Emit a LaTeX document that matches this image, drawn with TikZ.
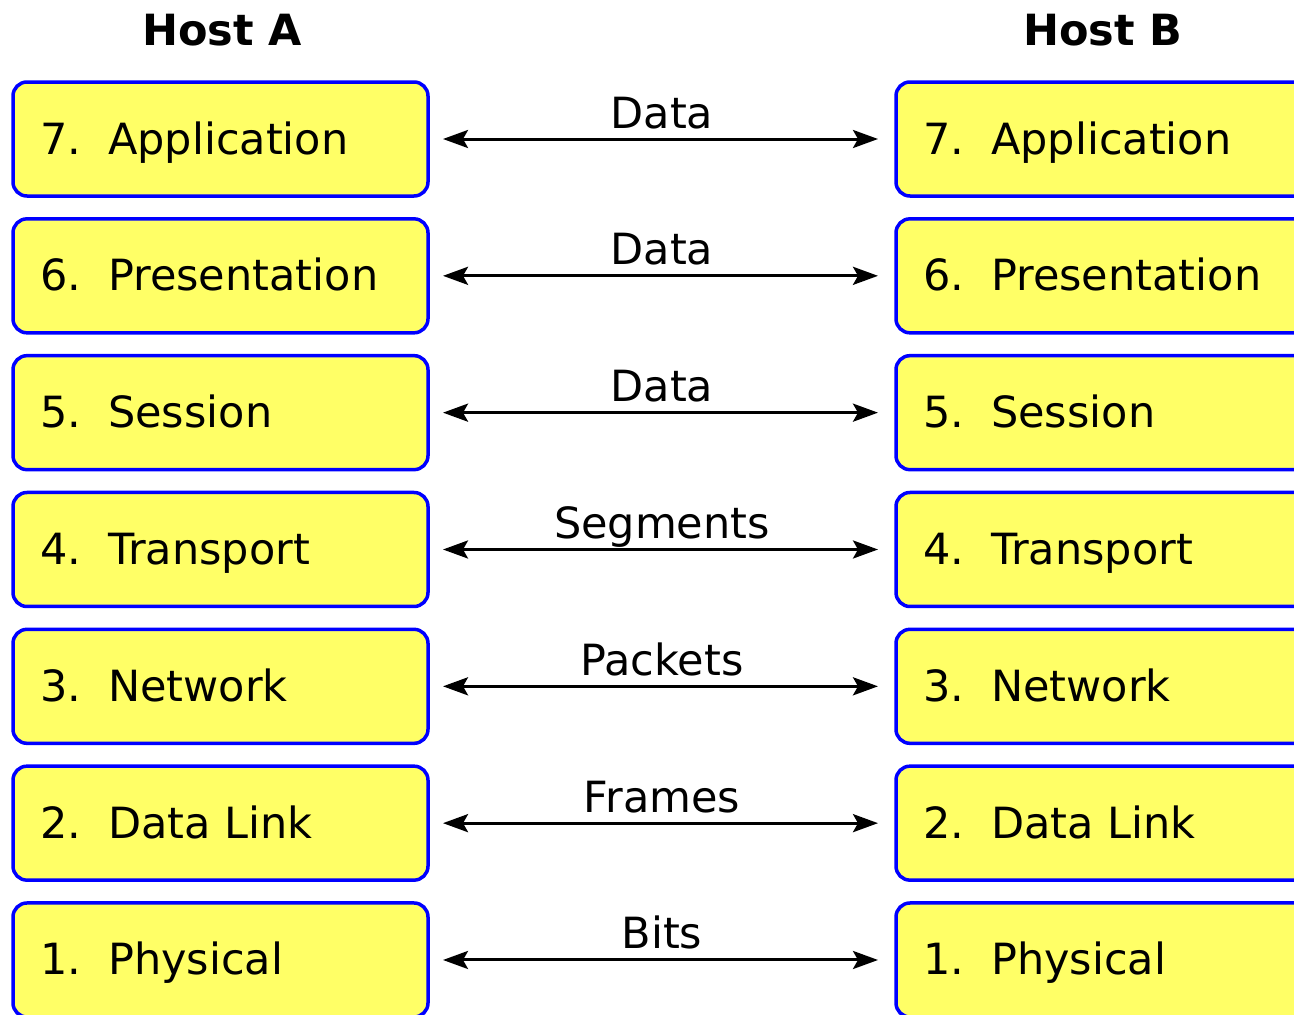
\documentclass[tikz,border=0pt]{standalone}
\usepackage{fontspec}
\setmainfont{DejaVu Sans}
\usetikzlibrary{arrows.meta}
\definecolor{boxfill}{HTML}{FFFF66}
\tikzset{
  layerbox/.style={draw=blue, fill=boxfill, line width=3.5pt, rounded corners=14pt,
    minimum width=415pt, minimum height=114pt, inner sep=0pt, outer sep=0pt, anchor=north west},
  lbl/.style={inner sep=0pt, anchor=base west, font=\fontsize{43}{50}\selectfont},
  hostlbl/.style={inner sep=0pt, anchor=base, font=\fontsize{43}{50}\selectfont\bfseries},
  arr/.style={line width=3pt, {Stealth[length=25pt,width=18pt,inset=5pt]}-{Stealth[length=25pt,width=18pt,inset=5pt]},
    shorten <=15pt, shorten >=18pt},
  arrlbl/.style={inner sep=0pt, anchor=base, font=\fontsize{43}{50}\selectfont}
}
\begin{document}
\begin{tikzpicture}[x=1pt,y=-1pt]
\useasboundingbox (0,0) rectangle (1294,1015);
\clip (0,0) rectangle (1294,1015);
\node[hostlbl] (hostA) at (222,45) {Host A};
\node[hostlbl] (hostB) at (1103,45) {Host B};
\foreach \n/\name/\pdu [count=\i from 0] in {7/Application/Data, 6/Presentation/Data, 5/Session/Data, 4/Transport/Segments, 3/Network/Packets, 2/Data Link/Frames, 1/Physical/Bits}{
  \pgfmathsetmacro{\top}{82+136.83*\i}
  \node[layerbox] (a\n) at (13,\top) {};
  \node[layerbox] (b\n) at (896,\top) {};
  \node[lbl] (at\n) at ([shift={(27,15)}]a\n.west) {\makebox[68pt][l]{\n.}\name};
  \node[lbl] (bt\n) at ([shift={(27,15)}]b\n.west) {\makebox[68pt][l]{\n.}\name};
  \draw[arr] (a\n.east) -- node[arrlbl, yshift=11pt] (p\n) {\pdu} (b\n.west);
}
\end{tikzpicture}
\end{document}
